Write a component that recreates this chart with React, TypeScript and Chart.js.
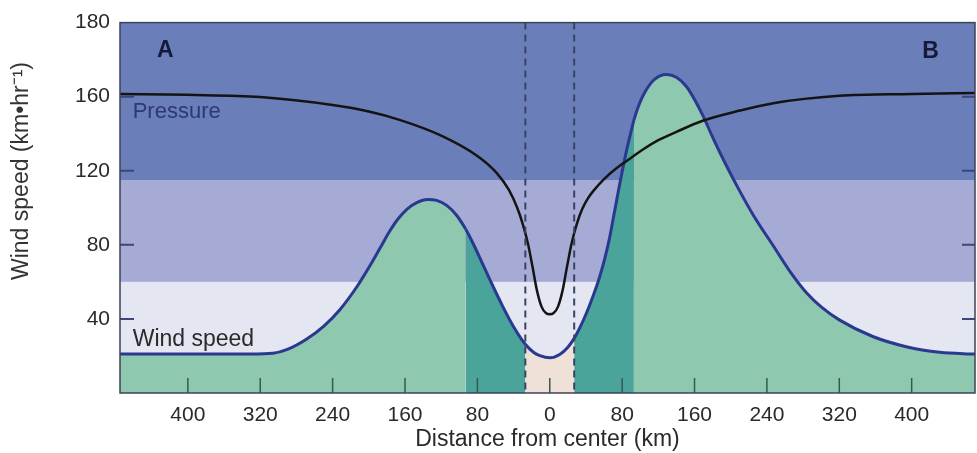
import React, { useEffect, useRef } from 'react';
import { Chart, registerables } from 'chart.js';

Chart.register(...registerables);

// ---- data (y in plot units; top tick is labelled "180") ----
const windDistance = [-475, -400, -330, -306, -290, -269, -250, -232, -213, -196, -185, -177, -168, -158, -147, -135, -125, -114, -103, -93, -85, -74, -66, -52, -40, -27, -18, -11, 0, 11, 20, 27, 33, 40, 48, 55, 61, 66, 72, 77, 84, 91, 93, 97, 103, 115, 129, 140, 151, 160, 169, 182, 195, 210, 225, 247, 265, 284, 300, 320, 357, 394, 431, 470];
const windSpeed = [21, 21, 21, 21.4, 23.5, 29, 36, 45, 57.5, 71, 80.5, 87.3, 93.8, 99.2, 102.8, 104.5, 104, 101.3, 96, 88.5, 81, 69.5, 61, 46.8, 35.8, 26.3, 22, 20.2, 19, 20.8, 24.7, 29.5, 35, 42.5, 52.5, 62.5, 73, 83.5, 99, 112, 129, 143.5, 147.3, 153.5, 160.5, 169, 172, 170.5, 165.5, 158.5, 150, 136, 123, 109, 96, 79.5, 66, 54, 46.5, 39.5, 30.5, 25, 22, 21];

const pressureDistance = [-475, -400, -320, -240, -200, -166, -120, -80, -59, -45, -36, -30, -24, -19, -14, -9, -4, 0, 4, 9, 14, 19, 24, 30, 36, 42, 48, 60, 74, 90, 103, 120, 140, 169, 210, 247, 320, 400, 470];
const pressureLevel = [161.5, 161, 159.8, 155.5, 152, 147.5, 139, 128, 119, 109.5, 100, 91.5, 80.5, 68, 55, 46.5, 43, 42.5, 43, 46.5, 55, 68, 80.5, 91.5, 99.5, 105, 109, 115.5, 121.5, 127, 131.5, 136.5, 141, 147, 152.5, 156.5, 160.5, 161.5, 162];

const xTickValues = [-400, -320, -240, -160, -80, 0, 80, 160, 240, 320, 400];
const xTickLabels = ['400', '320', '240', '160', '80', '0', '80', '160', '240', '320', '400'];
const yTickValues = [40, 80, 120, 160, 200];
const yTickLabels = ['40', '80', '120', '160', '180'];
const yTickMarks = [40, 80, 120, 160];

const bandEdges = [0, 60, 115, 200];
const bandColors = ['#e4e6f1', '#a5abd5', '#6a7fb9'];

const eyeEdge = 27;      // dashed lines
const eyewallEdge = 93;  // dark teal zone

const FONT = "'Liberation Sans', Arial, Helvetica, sans-serif";
const GREEN = '#8ec8ae';
const TEAL = '#4aa49a';
const BEIGE = '#efe1d8';
const NAVY = '#2a3990';

const decorPlugin = {
  id: 'decor',
  beforeDatasetsDraw(chart: any) {
    const { ctx, chartArea: a, scales } = chart;
    const y = scales.y;
    ctx.save();
    for (let i = 0; i < bandColors.length; i++) {
      const top = y.getPixelForValue(bandEdges[i + 1]);
      const bot = y.getPixelForValue(bandEdges[i]);
      ctx.fillStyle = bandColors[i];
      ctx.fillRect(a.left, top, a.right - a.left, bot - top);
    }
    ctx.restore();
  },
  afterDatasetsDraw(chart: any) {
    const { ctx, chartArea: a, scales } = chart;
    const x = scales.x;
    const y = scales.y;
    ctx.save();
    // dashed eye lines
    ctx.strokeStyle = '#3b4264';
    ctx.lineWidth = 2;
    ctx.setLineDash([7, 5]);
    for (const v of [-eyeEdge, eyeEdge]) {
      const px = x.getPixelForValue(v);
      ctx.beginPath();
      ctx.moveTo(px, a.top);
      ctx.lineTo(px, a.bottom);
      ctx.stroke();
    }
    ctx.setLineDash([]);
    // x tick marks (inside)
    ctx.strokeStyle = '#2f5d50';
    ctx.lineWidth = 1.5;
    for (const v of xTickValues) {
      const px = x.getPixelForValue(v);
      ctx.beginPath();
      ctx.moveTo(px, a.bottom);
      ctx.lineTo(px, a.bottom - 15);
      ctx.stroke();
    }
    // y tick marks (inside, both sides)
    ctx.strokeStyle = '#3d4676';
    ctx.lineWidth = 2;
    for (const v of yTickMarks) {
      const py = y.getPixelForValue(v);
      ctx.beginPath();
      ctx.moveTo(a.left, py);
      ctx.lineTo(a.left + 14, py);
      ctx.moveTo(a.right, py);
      ctx.lineTo(a.right - 13, py);
      ctx.stroke();
    }
    // border
    ctx.strokeStyle = '#3d4255';
    ctx.lineWidth = 1.5;
    ctx.strokeRect(a.left, a.top, a.right - a.left, a.bottom - a.top);

    // labels
    ctx.fillStyle = '#15193a';
    ctx.font = `bold 23px ${FONT}`;
    ctx.textAlign = 'center';
    ctx.textBaseline = 'middle';
    ctx.fillText('A', x.getPixelForValue(-425), y.getPixelForValue(185));
    ctx.fillText('B', x.getPixelForValue(421), y.getPixelForValue(184.5));

    ctx.textAlign = 'left';
    ctx.font = `22px ${FONT}`;
    ctx.fillStyle = '#2d3875';
    ctx.fillText('Pressure', x.getPixelForValue(-461), y.getPixelForValue(152));
    ctx.font = `23px ${FONT}`;
    ctx.fillStyle = '#2a2a2a';
    ctx.fillText('Wind speed', x.getPixelForValue(-461), y.getPixelForValue(29));

    // y-axis title
    ctx.translate(22, 171);
    ctx.rotate(-Math.PI / 2);
    ctx.textAlign = 'center';
    ctx.fillStyle = '#333';
    ctx.font = `23px ${FONT}`;
    ctx.fillText('Wind speed (km\u2022hr\u207B\u00B9)', 0, 0);
    ctx.restore();
  },
};

export default function App() {
  const ref = useRef<HTMLCanvasElement | null>(null);

  useEffect(() => {
    if (!ref.current) return;
    const windPts = windDistance.map((d, i) => ({ x: d, y: windSpeed[i] }));
    const presPts = pressureDistance.map((d, i) => ({ x: d, y: pressureLevel[i] }));
    const chart = new Chart(ref.current, {
      type: 'line',
      data: {
        datasets: [
          {
            label: 'Pressure',
            data: presPts,
            borderColor: '#141414',
            borderWidth: 2.5,
            pointRadius: 0,
            fill: false,
            cubicInterpolationMode: 'monotone',
            order: 1,
          },
          {
            label: 'Wind speed',
            data: windPts,
            borderColor: NAVY,
            borderWidth: 3,
            backgroundColor: GREEN,
            pointRadius: 0,
            fill: 'origin',
            cubicInterpolationMode: 'monotone',
            order: 2,
            segment: {
              backgroundColor: (ctx: any) => {
                const p = ctx.p0.parsed.x;
                const q = ctx.p1.parsed.x;
                if (p >= -eyeEdge && q <= eyeEdge) return BEIGE;
                if ((p >= -eyewallEdge && q <= -eyeEdge) || (p >= eyeEdge && q <= eyewallEdge)) return TEAL;
                return undefined;
              },
            },
          },
        ],
      } as any,
      options: {
        animation: false,
        responsive: false,
        devicePixelRatio: 1,
        layout: { padding: { top: 21, right: 2, left: 0, bottom: 0 } },
        plugins: { legend: { display: false }, tooltip: { enabled: false } },
        scales: {
          x: {
            type: 'linear',
            min: -475,
            max: 470,
            afterBuildTicks: (s: any) => {
              s.ticks = xTickValues.map((v) => ({ value: v }));
            },
            afterFit: (s: any) => {
              s.height = 60;
            },
            grid: { display: false, drawTicks: false },
            border: { display: false },
            ticks: {
              autoSkip: false,
              maxRotation: 0,
              padding: 10,
              color: '#2a2a2a',
              font: { family: FONT, size: 21 },
              callback: (_v: any, i: number) => xTickLabels[i],
            },
            title: {
              display: true,
              text: 'Distance from center (km)',
              color: '#2a2a2a',
              font: { family: FONT, size: 23 },
              padding: { top: 3, bottom: 0 },
            },
          },
          y: {
            type: 'linear',
            min: 0,
            max: 200,
            afterBuildTicks: (s: any) => {
              s.ticks = yTickValues.map((v) => ({ value: v }));
            },
            afterFit: (s: any) => {
              s.width = 120;
            },
            grid: { display: false, drawTicks: false },
            border: { display: false },
            ticks: {
              autoSkip: false,
              padding: 10,
              color: '#2a2a2a',
              font: { family: FONT, size: 21 },
              callback: (_v: any, i: number) => yTickLabels[i],
            },
          },
        },
      } as any,
      plugins: [decorPlugin],
    });
    return () => chart.destroy();
  }, []);

  return (
    <div style={{ position: 'fixed', left: 0, top: 0, width: 977, height: 453, background: '#fff' }}>
      <canvas ref={ref} width={977} height={453} />
    </div>
  );
}
